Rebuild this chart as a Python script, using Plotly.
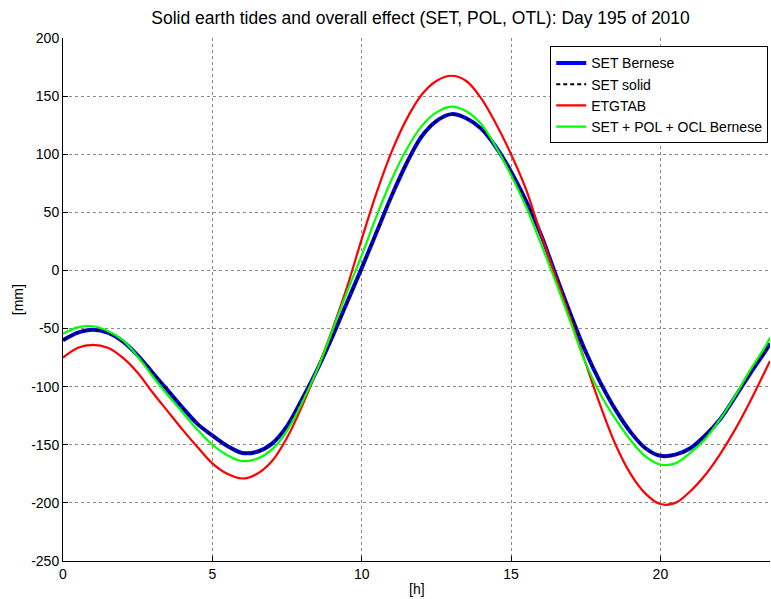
import plotly.graph_objects as go

hours = [0, 0.5, 1, 1.5, 2, 2.5, 3, 3.5, 4, 4.5, 5, 5.5, 6, 6.5, 7, 7.5, 8, 8.5, 9, 9.5,
         10, 10.5, 11, 11.5, 12, 12.5, 13, 13.5, 14, 14.5, 15, 15.5, 16, 16.5, 17, 17.5,
         18, 18.5, 19, 19.5, 20, 20.5, 21, 21.5, 22, 22.5, 23, 23.5, 23.67]

set_bernese = [-60, -53.5, -51, -53.5, -61, -73, -88, -103, -118, -132, -142, -151, -157, -156,
               -149, -134, -111, -86, -58, -28, 2, 33, 64, 92, 115, 128.5, 134.5, 131, 122, 106,
               85, 60, 31, -4, -38, -70, -97, -120, -139, -153, -159.5, -158.5, -153, -142,
               -128, -109, -89, -70, -63]

set_solid = [-60, -53.5, -51, -53.5, -61, -73, -88, -103, -118, -132, -142, -151, -157, -156,
             -149, -134, -111, -86, -58, -28, 2, 33, 64, 92, 115, 128.5, 134.5, 131, 122, 106,
             85, 60, 31, -4, -38, -70, -97, -120, -139, -153, -159.5, -158.5, -153, -142,
             -128, -109, -89, -70, -63]

etgtab = [-75, -66.5, -64, -66.5, -75, -88, -105, -121, -137, -152, -166, -175, -179, -175,
          -164, -144, -117, -86, -52, -15, 27, 67, 102, 130, 151, 163, 167.5, 163, 148, 126,
          100, 70, 31, -6, -42, -80, -117, -150, -175, -192, -201, -200, -190, -176, -158,
          -137, -113, -87, -78]

set_pol_ocl = [-54.5, -49, -48, -52, -60, -74, -91, -107, -122, -137, -150, -159, -164, -162,
               -154, -138, -114, -86, -53, -19, 13, 47, 78, 104, 124, 136, 141, 137, 126, 106,
               82, 55, 23, -10, -45, -80, -107, -128, -146, -160, -167, -166, -157, -145, -128,
               -108, -86, -66, -58]

x_ticks = [0, 5, 10, 15, 20]
y_ticks = [-250, -200, -150, -100, -50, 0, 50, 100, 150, 200]

FONT = "Liberation Sans, Arial, Helvetica, sans-serif"

fig = go.Figure()
fig.add_trace(go.Scatter(x=hours, y=set_bernese, mode="lines", name="SET Bernese",
                         line=dict(color="#0000ff", width=4, shape="spline")))
fig.add_trace(go.Scatter(x=hours, y=set_solid, mode="lines", name="SET solid",
                         line=dict(color="#000000", width=2, dash="4px,3px", shape="spline")))
fig.add_trace(go.Scatter(x=hours, y=etgtab, mode="lines", name="ETGTAB",
                         line=dict(color="#ff0000", width=2.2, shape="spline")))
fig.add_trace(go.Scatter(x=hours, y=set_pol_ocl, mode="lines", name="SET + POL + OCL Bernese",
                         line=dict(color="#00ff00", width=2.2, shape="spline")))

fig.update_layout(
    width=771, height=599,
    margin=dict(l=63, r=1, t=38, b=38),
    paper_bgcolor="white", plot_bgcolor="white",
    font=dict(family=FONT, size=13, color="black"),
    title=dict(text="Solid earth tides and overall effect (SET, POL, OTL): Day 195 of 2010",
               x=0.5057, xref="paper", xanchor="center", y=1 - 18 / 599, yanchor="middle",
               font=dict(family=FONT, size=17.5, color="black")),
    showlegend=True,
    legend=dict(x=0.9975, xanchor="right", y=0.984, yanchor="top",
                bgcolor="white", bordercolor="black", borderwidth=1,
                font=dict(family=FONT, size=14, color="black"),
                tracegroupgap=0, itemwidth=30),
    xaxis=dict(range=[0, 23.67], tickvals=x_ticks, ticktext=[str(v) for v in x_ticks],
               showgrid=True, gridcolor="#8a8a8a", griddash="dot", gridwidth=1,
               showline=True, linecolor="black", linewidth=1, mirror=False,
               ticks="inside", ticklen=5, tickcolor="black", zeroline=False,
               tickfont=dict(family=FONT, size=14, color="black")),
    yaxis=dict(range=[-250, 200], tickvals=y_ticks, ticktext=[str(v) for v in y_ticks],
               showgrid=True, gridcolor="#8a8a8a", griddash="dot", gridwidth=1,
               showline=True, linecolor="black", linewidth=1, mirror=False,
               ticks="inside", ticklen=5, tickcolor="black", zeroline=False,
               tickfont=dict(family=FONT, size=14, color="black")),
    annotations=[
        dict(text="[h]", xref="paper", yref="paper", x=0.5, y=-0.0535, yanchor="middle",
             xanchor="center", showarrow=False, font=dict(family=FONT, size=14)),
        dict(text="[mm]", xref="paper", yref="paper", x=-0.064, y=0.5, textangle=-90,
             xanchor="center", yanchor="middle", showarrow=False,
             font=dict(family=FONT, size=14)),
    ],
)

fig.write_html("out.html")
